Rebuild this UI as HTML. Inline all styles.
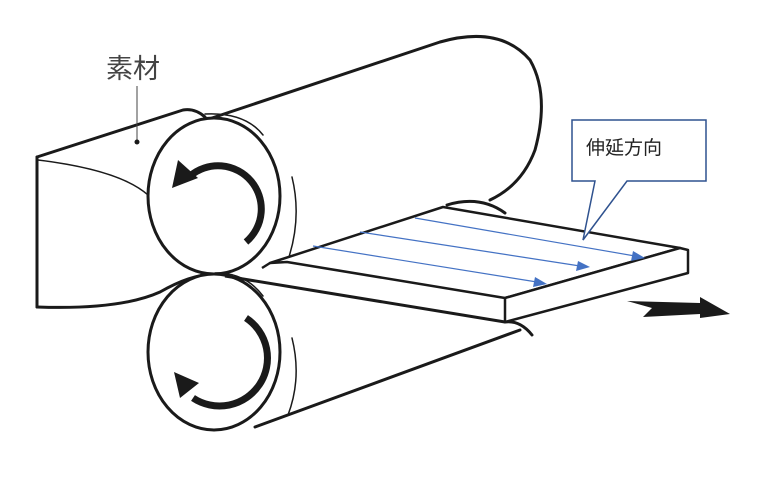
<!DOCTYPE html>
<html><head><meta charset="utf-8"><style>html,body{margin:0;padding:0;background:#fff}svg{display:block}</style></head><body>
<svg width="768" height="478" viewBox="0 0 768 478" xmlns="http://www.w3.org/2000/svg">
<g fill="none" stroke="#1a1a1a" stroke-linecap="round" stroke-linejoin="round">
<path d="M37,157 L37,307" stroke-width="3"/>
<path d="M37,157 L183,110 Q195,108 205,117" stroke-width="3"/>
<path d="M38,160 Q120,170 148,195" stroke-width="1.5"/>
<path d="M37,307 Q120,310 160,292 Q195,272 218,275" stroke-width="3"/>
<path d="M212,118 L440,42 Q500,25 530,60 Q550,95 535,150 Q522,185 490,200" stroke-width="3"/>
<path d="M447,205 Q480,195 505,213" stroke-width="3"/>
<path d="M255,427 L520,330" stroke-width="3"/>
<path d="M505,322 Q520,320 532,335" stroke-width="3"/>
<ellipse cx="214" cy="196" rx="66" ry="78" fill="#fff" stroke-width="3"/>
<path d="M205,114 Q245,112 263,135" stroke-width="1.5"/>
<path d="M292,177 Q302,218 288,260" stroke-width="1.5"/>
<ellipse cx="214" cy="352" rx="66" ry="78" fill="#fff" stroke-width="3"/>
<path d="M215,273 Q245,272 263,296" stroke-width="1.5"/>
<path d="M292,338 Q302,378 288,415" stroke-width="1.5"/>
<path d="M246,242 A42,42 0 1 0 190,176" stroke-width="7" stroke-linecap="butt"/>
<path d="M246,318 A42,42 0 1 1 193,398" stroke-width="7" stroke-linecap="butt"/>
</g>
<polygon points="172,188 178,160 198,178" fill="#1a1a1a"/>
<polygon points="174,372 180,398 199,383" fill="#1a1a1a"/>
<polygon points="270,263 443,207 680,248 505,298 287,262" fill="#fff" stroke="#1a1a1a" stroke-width="2.5" stroke-linejoin="round"/>
<polygon points="505,298 680,248 688,250 688,273 505,322" fill="#fff" stroke="#1a1a1a" stroke-width="2.5" stroke-linejoin="round"/>
<path d="M262,268 L270,263" fill="none" stroke="#1a1a1a" stroke-width="2.5"/>
<path d="M225,276 L505,322" fill="none" stroke="#1a1a1a" stroke-width="3"/>
<line x1="505" y1="298" x2="505" y2="322" stroke="#1a1a1a" stroke-width="1.5"/>
<g stroke="#4472c4" stroke-width="1.2">
<line x1="313" y1="246" x2="537" y2="282"/>
<line x1="360" y1="232" x2="580" y2="266"/>
<line x1="415" y1="218" x2="635" y2="256"/>
</g>
<g fill="#4472c4">
<polygon points="547,284 535,277 533,287"/>
<polygon points="590,267 578,261 576,271"/>
<polygon points="645,258 633,251 631,261"/>
</g>
<path d="M572,120 L706,120 L706,181 L627,181 L583,240 L595,181 L572,181 Z" fill="#fff" stroke="#2f528f" stroke-width="1.5"/>
<text x="586" y="154" font-family="'Liberation Sans','Noto Sans CJK JP',sans-serif" font-size="19" fill="#222">伸延方向</text>
<polygon points="627,301 700,303 700,297 730,314 700,318 700,314 643,317 652,308" fill="#1a1a1a"/>
<text x="106" y="78" font-family="'Liberation Sans','Noto Sans CJK JP',sans-serif" font-size="27" fill="#444">素材</text>
<line x1="137" y1="86" x2="137" y2="140" stroke="#444" stroke-width="1"/>
<circle cx="137" cy="142" r="2.5" fill="#1a1a1a"/>
</svg>
</body></html>
